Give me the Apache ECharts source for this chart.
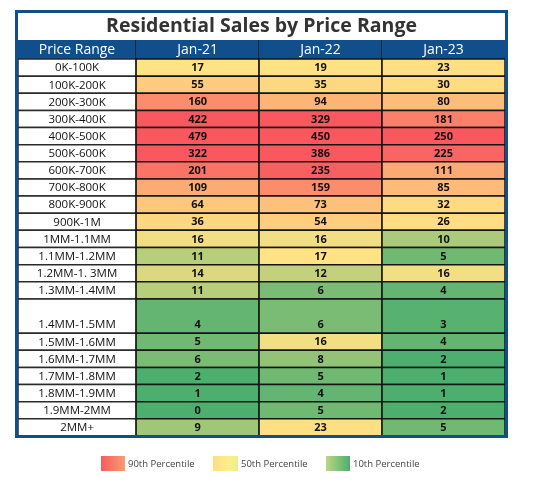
<!DOCTYPE html>
<html><head><meta charset="utf-8">
<script src="https://cdn.jsdelivr.net/npm/echarts@6/dist/echarts.min.js"></script>
<style>html,body{margin:0;padding:0;background:#fff}#main{width:549px;height:504px}</style>
</head><body><div id="main"></div>
<script>
// ---------------- data ----------------
const chartTitle = 'Residential Sales by Price Range';
const headerLabel = 'Price Range';
const periods = ['Jan-21', 'Jan-22', 'Jan-23'];
const priceRanges = ['0K-100K','100K-200K','200K-300K','300K-400K','400K-500K','500K-600K','600K-700K','700K-800K','800K-900K','900K-1M','1MM-1.1MM','1.1MM-1.2MM','1.2MM-1. 3MM','1.3MM-1.4MM','1.4MM-1.5MM','1.5MM-1.6MM','1.6MM-1.7MM','1.7MM-1.8MM','1.8MM-1.9MM','1.9MM-2MM','2MM+'];
const salesJan21 = [17,55,160,422,479,322,201,109,64,36,16,11,14,11,4,5,6,2,1,0,9];
const salesJan22 = [19,35,94,329,450,386,235,159,73,54,16,17,12,6,6,16,8,5,4,5,23];
const salesJan23 = [23,30,80,181,250,225,111,85,32,26,10,5,16,4,3,4,2,1,1,2,5];
const legendLabels = ['90th Percentile', '50th Percentile', '10th Percentile'];
const percentileLevels = [0.1, 0.5, 0.9];

// ---------------- layout / style ----------------
const FONT = "'Open Sans', 'DejaVu Sans', sans-serif";
const BLUE = '#114E8C';
const LINE = '#151515';
const COLOR_LOW = '#4DAF6E', COLOR_MID = '#FFE384', COLOR_HIGH = '#F8585E';
const HEADER_UNITS = 1.11;
const TALL_ROW = 14;
const rowUnits = priceRanges.map((_, i) => i === TALL_ROW ? 2 : 1);
const rowStart = [];
let accU = 0;
rowUnits.forEach(u => { rowStart.push(accU); accU += u; });
const totalUnits = accU;
const colWeights = [0.97, 1.01, 1.01, 1.01];
const colStart = [0];
colWeights.forEach((w, i) => colStart.push(colStart[i] + w));

// ---------------- colour scale (Excel-like 3-colour percentile scale) ----------------
function percentileInc(arr, p) {
  const s = arr.slice().sort((a, b) => a - b);
  const r = p * (s.length - 1), lo = Math.floor(r), hi = Math.ceil(r);
  return s[lo] + (s[hi] - s[lo]) * (r - lo);
}
const allValues = salesJan21.concat(salesJan22, salesJan23);
const [p10, p50, p90] = percentileLevels.map(p => percentileInc(allValues, p));
function score(v) {
  if (v <= p10) return 0;
  if (v >= p90) return 2;
  if (v <= p50) return (v - p10) / (p50 - p10);
  return 1 + (v - p50) / (p90 - p50);
}
const cellData = [];
[salesJan21, salesJan22, salesJan23].forEach((col, c) =>
  col.forEach((v, r) => cellData.push([c, r, v, score(v)])));

function cellRect(api, c, y0, y1) {
  const a = api.coord([colStart[c], y0]);
  const b = api.coord([colStart[c + 1], y1]);
  return { x: a[0], y: a[1], width: b[0] - a[0], height: b[1] - a[1] };
}

const chart = echarts.init(document.getElementById('main'), null, { renderer: 'canvas' });
chart.setOption({
  backgroundColor: '#fff',
  animation: false,
  grid: { left: 18, right: 44, top: 40, bottom: 68 },
  xAxis: { type: 'value', min: 0, max: colStart[colStart.length - 1], show: false },
  yAxis: { type: 'value', min: -HEADER_UNITS, max: totalUnits, inverse: true, show: false },
  visualMap: {
    show: false, type: 'continuous', seriesIndex: 2, dimension: 3,
    min: 0, max: 2, inRange: { color: [COLOR_LOW, COLOR_MID, COLOR_HIGH] }
  },
  series: [
    { // header row
      type: 'custom',
      data: [headerLabel].concat(periods).map((h, i) => [i]),
      renderItem: function (params, api) {
        const c = api.value(0);
        const rect = cellRect(api, c, -HEADER_UNITS, 0);
        const label = [headerLabel].concat(periods)[c];
        const children = [
          { type: 'rect', shape: rect, style: { fill: BLUE } },
          { type: 'text', style: { text: label, x: rect.x + rect.width / 2, y: rect.y + rect.height / 2 + 0.5,
            align: 'center', verticalAlign: 'middle', fontSize: 14, fontFamily: FONT, fill: '#fff' } }
        ];
        if (c < 3) {
          children.push({ type: 'line', shape: { x1: rect.x + rect.width, y1: rect.y, x2: rect.x + rect.width, y2: rect.y + rect.height },
            style: { stroke: LINE, lineWidth: 1.5 } });
        }
        return { type: 'group', children: children };
      }
    },
    { // price range label column
      type: 'custom',
      data: priceRanges.map((l, i) => [i]),
      renderItem: function (params, api) {
        const r = api.value(0);
        const rect = cellRect(api, 0, rowStart[r], rowStart[r] + rowUnits[r]);
        const ty = api.coord([0, rowStart[r] + rowUnits[r] - 0.5])[1];
        return { type: 'group', children: [
          { type: 'rect', shape: rect, style: { fill: '#fff', stroke: '#2a2a2a', lineWidth: 1.5 } },
          { type: 'text', style: { text: priceRanges[r], x: rect.x + rect.width / 2, y: ty + 0.5,
            align: 'center', verticalAlign: 'middle', fontSize: 11.5, fontFamily: FONT, fill: '#111' } }
        ] };
      }
    },
    { // value cells
      type: 'custom',
      dimensions: ['col', 'row', 'value', 'score'],
      data: cellData,
      renderItem: function (params, api) {
        const c = api.value(0) + 1, r = api.value(1);
        const rect = cellRect(api, c, rowStart[r], rowStart[r] + rowUnits[r]);
        const ty = api.coord([0, rowStart[r] + rowUnits[r] - 0.5])[1];
        return { type: 'group', children: [
          { type: 'rect', shape: rect, style: { fill: api.visual('color'), stroke: LINE, lineWidth: 1.5 } },
          { type: 'text', style: { text: String(api.value(2)), x: rect.x + rect.width / 2, y: ty + 0.5,
            align: 'center', verticalAlign: 'middle', fontSize: 11, fontWeight: 'bold', fontFamily: FONT, fill: '#111' } }
        ] };
      }
    }
  ],
  graphic: [
    { type: 'text', z: 50, style: { text: chartTitle, x: 261.5, y: 26, align: 'center', verticalAlign: 'middle',
      fontSize: 19.5, fontWeight: 'bold', fontFamily: FONT, fill: '#333' } },
    { type: 'rect', z: 100, shape: { x: 16.5, y: 11.5, width: 490, height: 425 },
      style: { fill: 'none', stroke: BLUE, lineWidth: 3 } },
    // legend
    { type: 'rect', shape: { x: 101, y: 456, width: 24, height: 15 },
      style: { fill: new echarts.graphic.LinearGradient(0, 0, 1, 0, [{ offset: 0, color: '#F85A60' }, { offset: 1, color: '#FB9C6F' }]) } },
    { type: 'text', style: { text: legendLabels[0], x: 128, y: 464, verticalAlign: 'middle', fontSize: 9.5, fontFamily: FONT, fill: '#444' } },
    { type: 'rect', shape: { x: 213, y: 456, width: 25, height: 15 },
      style: { fill: new echarts.graphic.LinearGradient(0, 0, 1, 0, [{ offset: 0, color: '#FEDD83' }, { offset: 0.6, color: '#FCEE8A' }, { offset: 1, color: '#EDEE8B' }]) } },
    { type: 'text', style: { text: legendLabels[1], x: 241, y: 464, verticalAlign: 'middle', fontSize: 9.5, fontFamily: FONT, fill: '#444' } },
    { type: 'rect', shape: { x: 326, y: 456, width: 24, height: 15 },
      style: { fill: new echarts.graphic.LinearGradient(0, 0, 1, 0, [{ offset: 0, color: '#BDD680' }, { offset: 1, color: '#4BAF6F' }]) } },
    { type: 'text', style: { text: legendLabels[2], x: 353, y: 464, verticalAlign: 'middle', fontSize: 9.5, fontFamily: FONT, fill: '#444' } }
  ]
});
</script></body></html>
